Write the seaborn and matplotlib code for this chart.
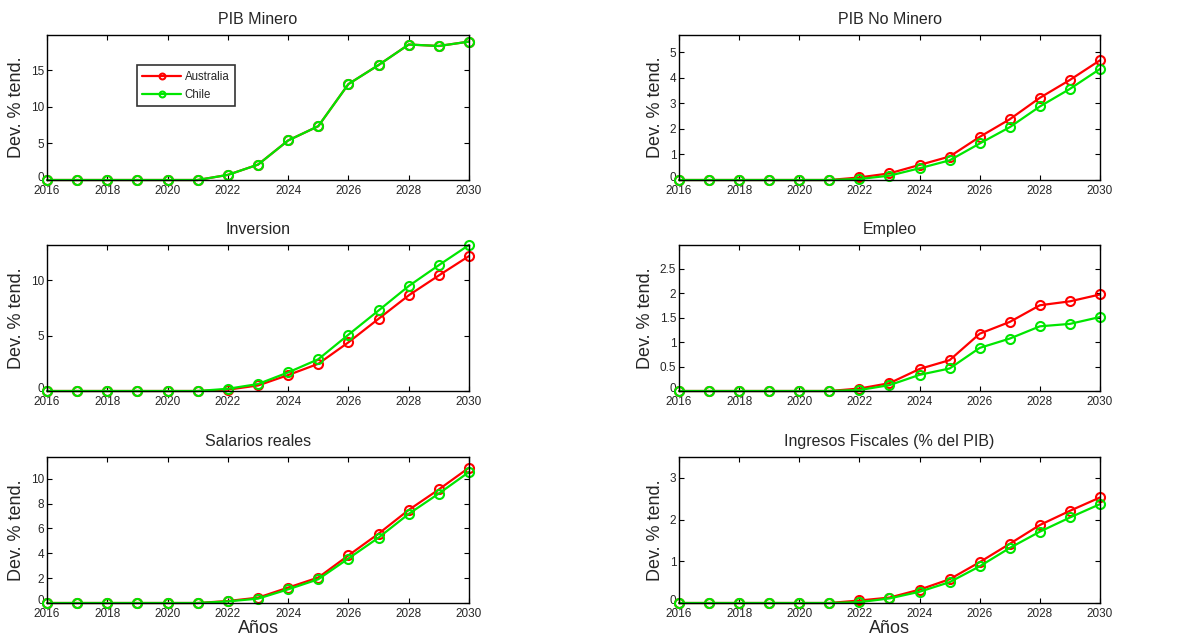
import matplotlib
matplotlib.use("Agg")
import matplotlib.pyplot as plt
import matplotlib.transforms as mtransforms
import seaborn as sns
import numpy as np

# Years of the simulation horizon
years = list(range(2016, 2031))

# Deviation from trend (%) by scenario
pib_minero_aus = [0, 0, 0, 0, 0, 0, 0.7, 2.1, 5.4, 7.35, 13.1, 15.7, 18.5, 18.3, 18.9]
pib_minero_chl = [0, 0, 0, 0, 0, 0, 0.7, 2.1, 5.4, 7.35, 13.1, 15.7, 18.5, 18.3, 18.9]

pib_nominero_aus = [0, 0, 0, 0, 0, 0, 0.10, 0.26, 0.59, 0.92, 1.69, 2.38, 3.22, 3.92, 4.69]
pib_nominero_chl = [0, 0, 0, 0, 0, 0, 0.04, 0.17, 0.46, 0.77, 1.43, 2.07, 2.88, 3.57, 4.35]

inversion_aus = [0, 0, 0, 0, 0, 0, 0.12, 0.50, 1.44, 2.46, 4.40, 6.53, 8.65, 10.45, 12.2]
inversion_chl = [0, 0, 0, 0, 0, 0, 0.20, 0.63, 1.68, 2.87, 5.09, 7.28, 9.49, 11.38, 13.2]

empleo_aus = [0, 0, 0, 0, 0, 0, 0.05, 0.16, 0.45, 0.63, 1.17, 1.41, 1.75, 1.83, 1.97]
empleo_chl = [0, 0, 0, 0, 0, 0, 0.02, 0.12, 0.33, 0.46, 0.88, 1.07, 1.32, 1.37, 1.51]

salarios_aus = [0, 0, 0, 0, 0, 0, 0.16, 0.43, 1.24, 2.05, 3.83, 5.58, 7.49, 9.14, 10.89]
salarios_chl = [0, 0, 0, 0, 0, 0, 0.13, 0.35, 1.10, 1.91, 3.58, 5.26, 7.17, 8.81, 10.54]

ingresos_aus = [0, 0, 0, 0, 0, 0, 0.06, 0.13, 0.32, 0.57, 0.98, 1.42, 1.87, 2.21, 2.53]
ingresos_chl = [0, 0, 0, 0, 0, 0, 0.02, 0.11, 0.27, 0.50, 0.88, 1.32, 1.71, 2.05, 2.37]

titles = ["PIB Minero", "PIB No Minero", "Inversion", "Empleo",
          "Salarios reales", "Ingresos Fiscales (% del PIB)"]
series_aus = [pib_minero_aus, pib_nominero_aus, inversion_aus, empleo_aus,
              salarios_aus, ingresos_aus]
series_chl = [pib_minero_chl, pib_nominero_chl, inversion_chl, empleo_chl,
              salarios_chl, ingresos_chl]
y_tops = [19.8, 5.68, 13.2, 2.98, 11.75, 3.5]
y_ticks = [[0, 5, 10, 15], [0, 1, 2, 3, 4, 5], [0, 5, 10],
           [0, 0.5, 1, 1.5, 2, 2.5], [0, 2, 4, 6, 8, 10], [0, 1, 2, 3]]
y_ticklabels = [["0", "5", "10", "15"], ["0", "1", "2", "3", "4", "5"],
                ["0", "5", "10"], ["0", "0.5", "1", "1.5", "2", "2.5"],
                ["0", "2", "4", "6", "8", "10"], ["0", "1", "2", "3"]]
x_ticks = list(range(2016, 2031, 2))
countries = ["Australia", "Chile"]
colors = ["#ff0000", "#00e600"]

sns.set_theme(style="ticks")
plt.rcParams["font.family"] = ["Liberation Sans", "DejaVu Sans"]

fig = plt.figure(figsize=(12.02, 6.42), dpi=100)
fig.patch.set_facecolor("white")

W, H = 1202, 642
col_x = [(47, 469), (679, 1100)]
row_y = [(35, 180), (245, 391), (457, 603)]

for i in range(6):
    r, c = divmod(i, 2)
    x0, x1 = col_x[c]
    y0, y1 = row_y[r]
    ax = fig.add_axes([x0 / W, 1 - y1 / H, (x1 - x0) / W, (y1 - y0) / H])
    ax.set_facecolor("white")
    for name, vals, col in zip(countries, [series_aus[i], series_chl[i]], colors):
        sns.lineplot(x=years, y=vals, ax=ax, color=col, lw=1.6,
                     marker="o", markersize=6.5, markerfacecolor="none",
                     markeredgecolor=col, markeredgewidth=1.5,
                     label=name if i == 0 else None, legend=(i == 0),
                     clip_on=False)
    ax.set_xlim(2016, 2030)
    ax.set_ylim(0, y_tops[i])
    ax.set_xticks(x_ticks)
    ax.set_xticklabels([str(t) for t in x_ticks])
    ax.set_yticks(y_ticks[i])
    ax.set_yticklabels(y_ticklabels[i])
    ax.tick_params(direction="in", length=3.5, width=0.8, color="black",
                   labelsize=8.5, top=True, right=True)
    ax.tick_params(axis="y", pad=2)
    ax.tick_params(axis="x", pad=3.5)
    # lift the zero label slightly so it clears the year labels
    zero_lbl = ax.get_yticklabels()[0]
    zero_lbl.set_transform(zero_lbl.get_transform() +
                           mtransforms.ScaledTranslation(0, 2.5 / 72,
                                                         fig.dpi_scale_trans))
    for sp in ax.spines.values():
        sp.set_visible(True)
        sp.set_color("black")
        sp.set_linewidth(1.0)
    ax.set_title(titles[i], fontsize=11.5, pad=8)
    ax.set_ylabel("Dev. % tend.", fontsize=13, labelpad=4)
    if r == 2:
        ax.set_xlabel("Años", fontsize=13, labelpad=0)
    else:
        ax.set_xlabel("")
    ax.grid(False)
    if i == 0:
        leg = ax.legend(loc="upper left", bbox_to_anchor=(90 / 422, 0.79),
                        fontsize=8.3, frameon=True, fancybox=False,
                        handlelength=3.4, markerscale=0.65,
                        borderpad=0.45, labelspacing=0.55, handletextpad=0.3,
                        borderaxespad=0)
        leg.get_frame().set_edgecolor("black")
        leg.get_frame().set_linewidth(1.2)

fig.savefig("out.png", dpi=100, facecolor="white")
